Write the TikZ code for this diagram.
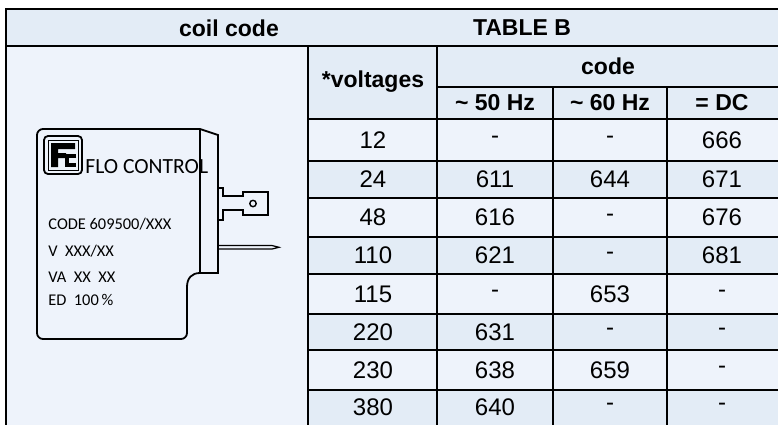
\documentclass[tikz,border=0pt]{standalone}
\usepackage{fontspec}
\setmainfont{Liberation Sans}
\newfontfamily\coilfont{Carlito}
\definecolor{hdrblue}{RGB}{227,236,246}
\definecolor{paleblue}{RGB}{238,243,251}
\begin{document}
\begin{tikzpicture}[x=0.5pt,y=-0.5pt,
	grid/.style={line width=1.1pt},
	head/.style={font=\fontsize{11.5}{13}\selectfont\bfseries},
	num/.style={font=\fontsize{12}{14}\selectfont},
	coil/.style={line width=0.9pt},
	plate/.style={font=\coilfont\fontsize{8.2}{10}\selectfont,anchor=base west,inner sep=0pt}]

\useasboundingbox (0,0) rectangle (778,424);
\clip (0,0) rectangle (778,424);

% backgrounds
\fill[hdrblue] (6,9) rectangle (790,46);
\fill[paleblue] (6,46) rectangle (308,430);
\fill[hdrblue] (308,46) rectangle (790,119);
\fill[paleblue] (308,119) rectangle (790,161);
\fill[hdrblue] (308,161) rectangle (790,198);
\fill[paleblue] (308,198) rectangle (790,237);
\fill[hdrblue] (308,237) rectangle (790,274);
\fill[paleblue] (308,274) rectangle (790,314);
\fill[hdrblue] (308,314) rectangle (790,350);
\fill[paleblue] (308,350) rectangle (790,390);
\fill[hdrblue] (308,390) rectangle (790,430);

% rules
\draw[grid] (6,430) -- (6,9) -- (790,9)
	(6,46) -- (790,46)
	(308,46) -- (308,430)
	(437,46) -- (437,430)
	(437,87) -- (790,87)
	(553,87) -- (553,430)
	(667,87) -- (667,430)
	(308,119) -- (790,119)
	(308,161) -- (790,161)
	(308,198) -- (790,198)
	(308,237) -- (790,237)
	(308,274) -- (790,274)
	(308,314) -- (790,314)
	(308,350) -- (790,350)
	(308,390) -- (790,390)
	;

% headings
\node[head] (coilhead) at (229,28) {coil code};
\node[head] (tabhead) at (522,28) {TABLE B};
\node[head] (volthead) at (373,82) {*voltages};
\node[head] (codehead) at (608,66) {code};
\node[head] (hz50) at (495,103) {\textasciitilde\ 50 Hz};
\node[head] (hz60) at (610,103) {\textasciitilde\ 60 Hz};
\node[head] (dc) at (722,103) {= DC};

% table body
\node[num] (v12) at (373,140) {12};
\node[num] (a12) at (495,140) {-};
\node[num] (b12) at (610,140) {-};
\node[num] (c12) at (722,140) {666};

\node[num] (v24) at (373,179.5) {24};
\node[num] (a24) at (495,179.5) {611};
\node[num] (b24) at (610,179.5) {644};
\node[num] (c24) at (722,179.5) {671};

\node[num] (v48) at (373,217.5) {48};
\node[num] (a48) at (495,217.5) {616};
\node[num] (b48) at (610,217.5) {-};
\node[num] (c48) at (722,217.5) {676};

\node[num] (v110) at (373,255.5) {110};
\node[num] (a110) at (495,255.5) {621};
\node[num] (b110) at (610,255.5) {-};
\node[num] (c110) at (722,255.5) {681};

\node[num] (v115) at (373,294) {115};
\node[num] (a115) at (495,294) {-};
\node[num] (b115) at (610,294) {653};
\node[num] (c115) at (722,294) {-};

\node[num] (v220) at (373,332) {220};
\node[num] (a220) at (495,332) {631};
\node[num] (b220) at (610,332) {-};
\node[num] (c220) at (722,332) {-};

\node[num] (v230) at (373,370) {230};
\node[num] (a230) at (495,370) {638};
\node[num] (b230) at (610,370) {659};
\node[num] (c230) at (722,370) {-};

\node[num] (v380) at (373,407) {380};
\node[num] (a380) at (495,407) {640};
\node[num] (b380) at (610,407) {-};
\node[num] (c380) at (722,407) {-};

% coil body
\draw[coil] (200,129) [rounded corners=3pt] -- (37,129) -- (37,339) -- (187,339) [sharp corners] -- (187,287)
	.. controls (187,278) and (192,273) .. (200,273) -- (218,273) -- (218,135) -- cycle;
\draw[line width=0.6pt] (200,129) -- (200,273);

% spade terminal
\draw[line width=0.7pt] (218,188) -- (223,188) -- (223,196) -- (243,196) -- (243,192) -- (268,192)
	-- (268,215) -- (243,215) -- (243,210) -- (223,210) -- (223,220) -- (218,220);
\draw[line width=1.4pt] (245,192) -- (262,192) (245,215) -- (262,215);
\draw[line width=0.7pt] (253,203.5) circle[radius=1.6pt];

% pin
\draw[line width=0.6pt] (218,245.5) -- (272,245.5) -- (279,247.3) -- (272,249) -- (218,249);

% logo
\draw[line width=0.9pt,rounded corners=2pt] (44,136) rectangle (82,174);
\draw[line width=0.5pt] (48,140) rectangle (78,170);
\fill (51,143) -- (75,143) -- (75,149) -- (58,149) -- (58,153) -- (66,153) -- (66,158)
	-- (58,158) -- (58,167) -- (51,167) -- cycle;
\draw[line width=2.2pt] (76,156) -- (67,156) -- (67,165) -- (76,165);

% plate text
\node[plate,font=\coilfont\fontsize{10.8}{12}\selectfont] (brand) at (85,173) {FLO CONTROL};
\node[plate] (codeline) at (48,229) {CODE 609500/XXX};
\node[plate] (voltline) at (48,256) {V\ \ XXX/XX};
\node[plate] (valine) at (48,282) {VA\ \ XX\ \ XX};
\node[plate] (edline) at (48,305) {ED\ \ 100\,\%};

\end{tikzpicture}
\end{document}
